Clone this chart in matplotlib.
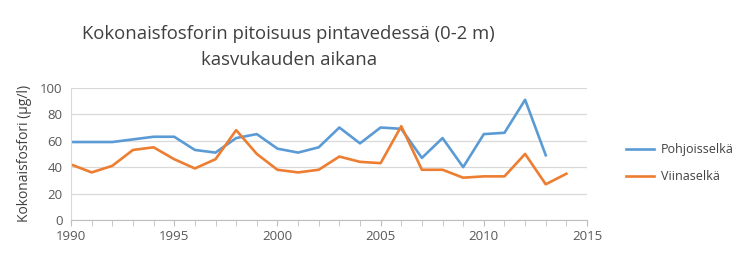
import matplotlib
matplotlib.use("Agg")
import matplotlib.pyplot as plt
from matplotlib.ticker import MultipleLocator

years_p = list(range(1990, 2014))
pohjoisselka = [59, 59, 59, 61, 63, 63, 53, 51, 62, 65, 54, 51, 55, 70, 58, 70, 69, 47, 62, 40, 65, 66, 91, 49]
years_v = list(range(1990, 2015))
viinaselka = [42, 36, 41, 53, 55, 46, 39, 46, 68, 50, 38, 36, 38, 48, 44, 43, 71, 38, 38, 32, 33, 33, 50, 27, 35]

title = "Kokonaisfosforin pitoisuus pintavedessä (0-2 m)\nkasvukauden aikana"
ylabel = "Kokonaisfosfori (µg/l)"

plt.rcParams['font.family'] = ['Open Sans', 'DejaVu Sans']

fig = plt.figure(figsize=(7.5, 2.6), dpi=100)
ax = fig.add_axes([0.0947, 0.154, 0.688, 0.508])

blue = "#5B9BD5"
orange = "#ED7D31"
ax.plot(years_p, pohjoisselka, color=blue, lw=1.9, label="Pohjoisselkä")
ax.plot(years_v, viinaselka, color=orange, lw=1.9, label="Viinaselkä")

ax.set_xlim(1990, 2015)
ax.set_ylim(0, 100)
ax.xaxis.set_major_locator(MultipleLocator(5))
ax.xaxis.set_minor_locator(MultipleLocator(1))
ax.yaxis.set_major_locator(MultipleLocator(20))
ax.grid(axis='y', color='#D9D9D9', lw=0.9)
ax.set_axisbelow(True)
for s in ['top', 'right']:
    ax.spines[s].set_visible(False)
ax.spines['left'].set_color('#D9D9D9')
ax.spines['bottom'].set_color('#BFBFBF')
ax.tick_params(axis='y', length=0, labelsize=9.5, colors='#595959', pad=6)
ax.tick_params(axis='x', which='both', length=4, color='#BFBFBF', labelsize=9.5, labelcolor='#595959')
ax.set_ylabel(ylabel, fontsize=10, color='#404040', labelpad=6)

fig.text(0.385, 0.82, title, ha='center', va='center', fontsize=13.3, color='#404040', linespacing=1.6)

leg = ax.legend(loc='center left', bbox_to_anchor=(1.065, 0.43), frameon=False, fontsize=9,
                handlelength=2.3, handletextpad=0.5, labelspacing=1.15, borderaxespad=0)
for t in leg.get_texts():
    t.set_color('#404040')

fig.savefig("out.png", dpi=100)
